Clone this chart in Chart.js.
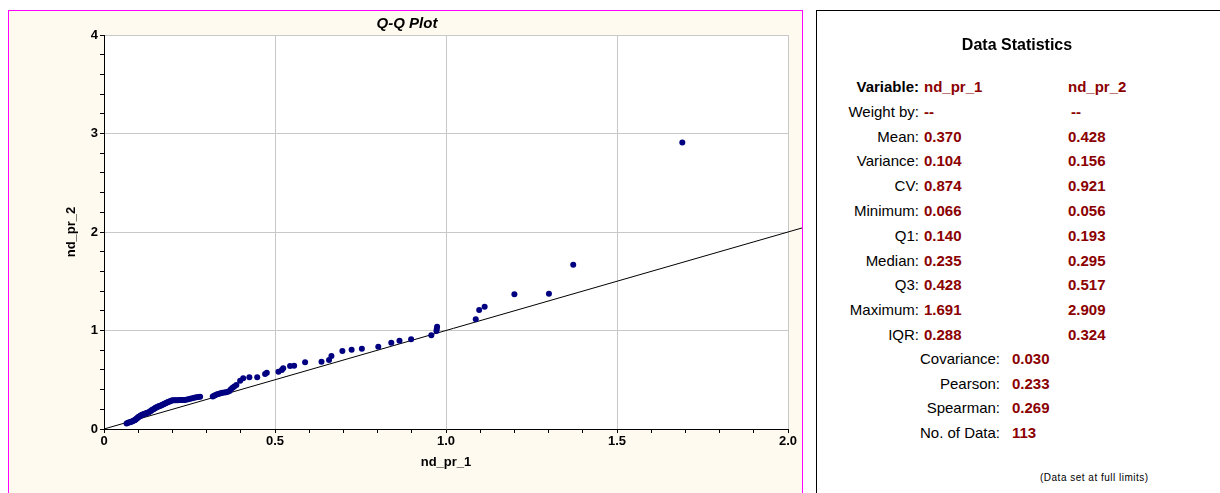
<!DOCTYPE html>
<html>
<head>
<meta charset="utf-8">
<script src="https://cdn.jsdelivr.net/npm/chart.js@4.4.1/dist/chart.umd.min.js"></script>
<style>
  html, body { margin: 0; padding: 0; width: 1220px; height: 493px; overflow: hidden; background: #fff; font-family: "Liberation Sans", Arial, sans-serif; }
  #plotPanel { position: absolute; left: 8px; top: 10px; width: 793px; height: 500px; border: 1px solid #ff00ff; background: #fffaf0; }
  #qq { position: absolute; left: 0; top: 0; }
  #statsPanel { position: absolute; left: 816px; top: 10px; width: 420px; height: 500px; border: 1px solid #000; background: #fff; }
  .t { position: absolute; white-space: nowrap; line-height: 18px; font-size: 15px; color: #000; }
  .v { font-weight: bold; color: #8b0000; }
  .b { font-weight: bold; }
</style>
</head>
<body>
<div id="plotPanel"><canvas id="qq" width="793" height="482"></canvas></div>
<div id="statsPanel"></div>
<div class="t b" style="left:0;width:2034px;text-align:center;top:36px;font-size:16px;">Data Statistics</div>
<div class="t" style="left:1040px;top:469px;font-size:10px;letter-spacing:0.5px;">(Data set at full limits)</div>
<div id="stats"></div>

<script>
// sorted quantiles of nd_pr_1 (x) and nd_pr_2 (y)
const qX = [
  0.066, 0.070, 0.073, 0.077, 0.080, 0.083, 0.086, 0.089, 0.091, 0.093,
  0.095, 0.097, 0.099, 0.101, 0.103, 0.105, 0.107, 0.109, 0.111, 0.113,
  0.116, 0.119, 0.122, 0.125, 0.128, 0.131, 0.134, 0.137, 0.140,
  0.143, 0.146, 0.149, 0.151, 0.154, 0.157, 0.159, 0.162, 0.165, 0.168,
  0.171, 0.174, 0.177, 0.180, 0.183, 0.186, 0.189, 0.192, 0.195, 0.198,
  0.202, 0.206, 0.210, 0.215, 0.220, 0.225, 0.230, 0.235,
  0.240, 0.246, 0.252, 0.258, 0.264, 0.270, 0.276, 0.281, 0.318, 0.322,
  0.326, 0.331, 0.336, 0.341, 0.346, 0.352, 0.357, 0.362, 0.367, 0.371,
  0.376, 0.381, 0.387, 0.398, 0.407,
  0.425, 0.448, 0.471, 0.476, 0.510, 0.520, 0.524, 0.544, 0.556, 0.588,
  0.636, 0.658, 0.665, 0.697, 0.724, 0.754, 0.802, 0.840, 0.864, 0.898,
  0.957, 0.972, 0.973, 0.974, 1.087, 1.097, 1.113, 1.200, 1.301, 1.372,
  1.691
];
const qY = [
  0.056, 0.064, 0.067, 0.070, 0.073, 0.078, 0.083, 0.088, 0.092, 0.098,
  0.105, 0.110, 0.116, 0.121, 0.126, 0.130, 0.134, 0.139, 0.143, 0.147,
  0.151, 0.154, 0.158, 0.162, 0.166, 0.171, 0.177, 0.183, 0.193,
  0.197, 0.203, 0.210, 0.215, 0.220, 0.225, 0.229, 0.233, 0.237, 0.242,
  0.246, 0.251, 0.256, 0.261, 0.266, 0.271, 0.276, 0.280, 0.285, 0.289,
  0.291, 0.292, 0.293, 0.293, 0.294, 0.294, 0.295, 0.295,
  0.298, 0.301, 0.306, 0.312, 0.318, 0.322, 0.326, 0.328, 0.331, 0.337,
  0.345, 0.352, 0.357, 0.362, 0.367, 0.370, 0.373, 0.377, 0.386, 0.403,
  0.420, 0.432, 0.447, 0.490, 0.514,
  0.525, 0.525, 0.558, 0.572, 0.582, 0.599, 0.616, 0.640, 0.643, 0.677,
  0.683, 0.700, 0.741, 0.792, 0.805, 0.815, 0.836, 0.876, 0.897, 0.910,
  0.951, 0.995, 1.015, 1.039, 1.113, 1.208, 1.242, 1.367, 1.374, 1.668,
  2.909
];
// y = x reference line
const refLine = [0, 2.1];

const xTickLabels = ["0", "0.5", "1.0", "1.5", "2.0"];
const yTickLabels = ["0", "1", "2", "3", "4"];

const statLabels = ["Variable:", "Weight by:", "Mean:", "Variance:", "CV:", "Minimum:", "Q1:", "Median:", "Q3:", "Maximum:", "IQR:"];
const statCol1 = ["nd_pr_1", "--", "0.370", "0.104", "0.874", "0.066", "0.140", "0.235", "0.428", "1.691", "0.288"];
const statCol2 = ["nd_pr_2", "--", "0.428", "0.156", "0.921", "0.056", "0.193", "0.295", "0.517", "2.909", "0.324"];
const pairLabels = ["Covariance:", "Pearson:", "Spearman:", "No. of Data:"];
const pairValues = ["0.030", "0.233", "0.269", "113"];

// stats table
const statsEl = document.getElementById("stats");
function addText(html, cls, style) {
  const d = document.createElement("div");
  d.className = "t " + cls;
  d.style.cssText = style;
  d.textContent = html;
  statsEl.appendChild(d);
}
statLabels.forEach((lab, i) => {
  const top = 78 + i * 24.8;
  addText(lab, i === 0 ? "b" : "", `right:${1220 - 919}px;top:${top}px;text-align:right;`);
  addText(statCol1[i], "v", `left:924px;top:${top}px;`);
  addText(statCol2[i], "v", `left:${i === 1 ? 1071 : 1068}px;top:${top}px;`);
});
pairLabels.forEach((lab, i) => {
  const top = 350 + i * 24.6;
  addText(lab, "", `right:${1220 - 1000}px;top:${top}px;text-align:right;`);
  addText(pairValues[i], "v", `left:1012px;top:${top}px;`);
});

const near = (v, step) => Math.abs(v / step - Math.round(v / step)) < 1e-6;
const FONT = "'Liberation Sans', Arial, sans-serif";

const plotBg = {
  id: "plotBg",
  beforeDraw(chart) {
    const { ctx, chartArea: a } = chart;
    ctx.save();
    ctx.fillStyle = "#ffffff";
    ctx.fillRect(a.left, a.top, a.right - a.left, a.bottom - a.top);
    ctx.restore();
  },
};

new Chart(document.getElementById("qq"), {
  type: "scatter",
  data: {
    datasets: [
      {
        data: qX.map((x, i) => ({ x, y: qY[i] })),
        backgroundColor: "#000080",
        borderWidth: 0,
        pointRadius: 3,
        order: 1,
      },
      {
        type: "line",
        data: refLine.map((v) => ({ x: v, y: v })),
        borderColor: "#000",
        borderWidth: 1,
        pointRadius: 0,
        clip: false,
        order: 2,
      },
    ],
  },
  options: {
    responsive: false,
    animation: false,
    layout: { padding: { left: 17, right: 14, top: 0, bottom: 0 } },
    plugins: {
      legend: { display: false },
      tooltip: { enabled: false },
      title: {
        display: true,
        text: "Q-Q Plot",
        color: "#000",
        font: { family: FONT, size: 15, weight: "bold", style: "italic" },
        padding: { top: 4, bottom: 2 },
      },
    },
    scales: {
      x: {
        type: "linear",
        min: 0,
        max: 2,
        afterFit: (s) => { s.height = 64; },
        border: { color: "#000", width: 1 },
        grid: {
          color: (c) => (c.tick && near(c.tick.value, 0.5) ? "#c8c8c8" : "rgba(0,0,0,0)"),
          tickColor: "#000",
          tickLength: 4,
        },
        ticks: {
          stepSize: 0.1,
          autoSkip: false,
          maxRotation: 0,
          padding: 1,
          color: "#000",
          font: { family: FONT, size: 13, weight: "bold" },
          callback: (v) => (near(v, 0.5) ? xTickLabels[Math.round(v / 0.5)] : ""),
        },
        title: {
          display: true,
          text: "nd_pr_1",
          color: "#000",
          font: { family: FONT, size: 13, weight: "bold" },
          padding: { top: 0, bottom: 22.5 },
        },
      },
      y: {
        type: "linear",
        min: 0,
        max: 4,
        afterFit: (s) => { s.width = 78; },
        border: { color: "#000", width: 1 },
        grid: {
          color: (c) => (c.tick && near(c.tick.value, 1) ? "#c8c8c8" : "rgba(0,0,0,0)"),
          tickColor: "#000",
          tickLength: 4,
        },
        ticks: {
          stepSize: 0.2,
          autoSkip: false,
          padding: 2,
          color: "#000",
          font: { family: FONT, size: 13, weight: "bold" },
          callback: (v) => (near(v, 1) ? yTickLabels[Math.round(v)] : ""),
        },
        title: {
          display: true,
          text: "nd_pr_2",
          color: "#000",
          font: { family: FONT, size: 13, weight: "bold" },
          padding: { top: 38, bottom: 0 },
        },
      },
    },
  },
  plugins: [plotBg],
});
</script>
</body>
</html>
